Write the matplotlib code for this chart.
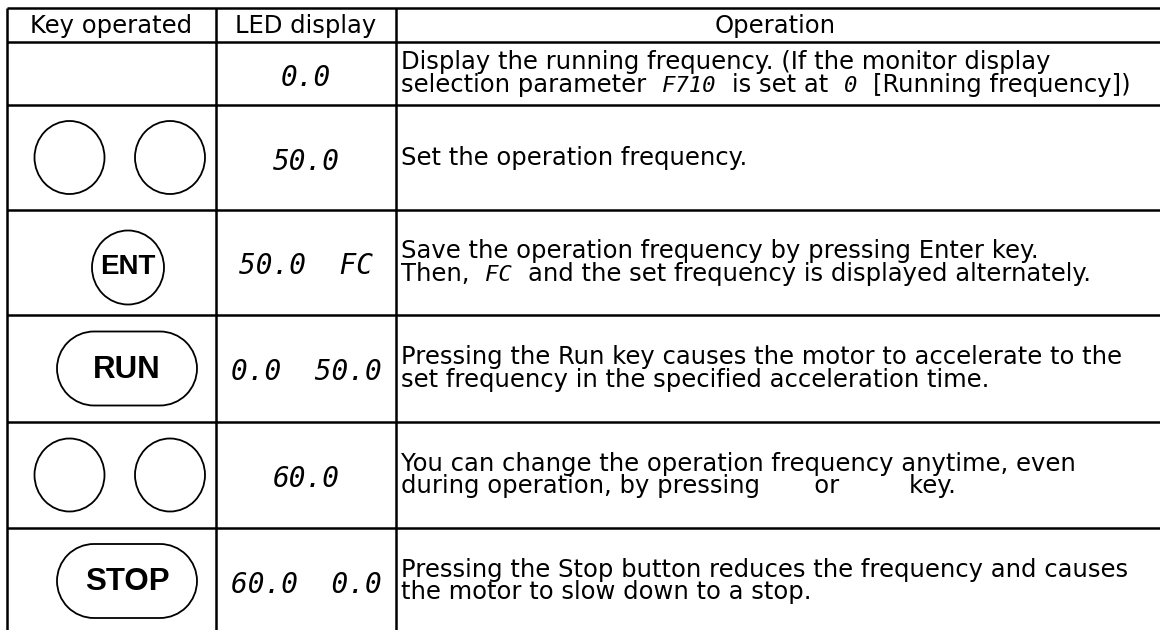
import numpy as np
import matplotlib.pyplot as plt
from matplotlib.patches import Ellipse, PathPatch
from matplotlib.path import Path

headers = ["Key operated", "LED display", "Operation"]
keys = [[], ["", ""], ["ENT"], ["RUN"], ["", ""], ["STOP"]]
led = ["0.0", "50.0", "50.0  FC", "0.0  50.0", "60.0", "60.0  0.0"]

# one list of lines per row, each line a list of (text, led glyph?) parts
operation = [
    [[("Display the running frequency. (If the monitor display", False)],
     [("selection parameter", False), ("F710", True), ("is set at", False), ("0", True),
      ("[Running frequency])", False)]],
    [[("Set the operation frequency.", False)]],
    [[("Save the operation frequency by pressing Enter key.", False)],
     [("Then,", False), ("FC", True), ("and the set frequency is displayed alternately.", False)]],
    [[("Pressing the Run key causes the motor to accelerate to the", False)],
     [("set frequency in the specified acceleration time.", False)]],
    [[("You can change the operation frequency anytime, even", False)],
     [("during operation, by pressing       or         key.", False)]],
    [[("Pressing the Stop button reduces the frequency and causes", False)],
     [("the motor to slow down to a stop.", False)]],
]

# layout in pixels
W, H = 1160, 630
col_x = [7, 216, 396]
row_y = [8, 42, 105, 210, 315, 422, 528, 634]
body = dict(family="DejaVu Sans", fontsize=17.5, color="black")
led_style = dict(family="DejaVu Sans Mono", style="oblique", color="black")
line_gap = 23
lw = 1.8


def pill(x0, x1, yc, r):
    right = Path.arc(-90, 90)
    left = Path.arc(90, 270)
    v = np.vstack([right.vertices * r + [x1 - r, yc],
                   left.vertices * r + [x0 + r, yc],
                   [[x1 - r, yc - r]]])
    codes = np.concatenate([right.codes, left.codes, [Path.CLOSEPOLY]])
    codes[len(right.codes)] = Path.LINETO
    return Path(v, codes)


fig = plt.figure(figsize=(W / 100, H / 100), dpi=100)
ax = fig.add_axes([0, 0, 1, 1])
ax.set_xlim(0, W)
ax.set_ylim(H, 0)
ax.axis("off")
renderer = fig.canvas.get_renderer()

for y in row_y[:-1]:
    ax.plot([col_x[0], W], [y, y], color="black", lw=lw, solid_capstyle="butt")
for x in col_x:
    ax.plot([x, x], [row_y[0], H], color="black", lw=lw, solid_capstyle="butt")

# header
col_mid = [(col_x[0] + col_x[1]) / 2, (col_x[1] + col_x[2]) / 2, 775]
for i in range(3):
    ax.text(col_mid[i], (row_y[0] + row_y[1]) / 2 + 8, headers[i], ha="center", va="baseline", **body)

space = 6
led_pad = 10
for r in range(6):
    yc = (row_y[r + 1] + row_y[r + 2]) / 2

    # keys
    k = keys[r]
    if len(k) == 2:
        for cx in [69.5, 170]:
            ax.add_patch(Ellipse((cx, yc), 70, 73, fill=False, lw=1.3, ec="black"))
    elif k == ["ENT"]:
        ax.add_patch(Ellipse((128, yc + 5), 72, 74, fill=False, lw=1.3, ec="black"))
        ax.text(128, yc + 5, "ENT", ha="center", va="center", family="Liberation Sans",
                weight="bold", fontsize=20)
    elif len(k) == 1:
        ax.add_patch(PathPatch(pill(57, 197, yc, 37), fill=False, lw=1.3, ec="black"))
        ax.text(127, yc + 1, k[0], ha="center", va="center", family="Liberation Sans",
                weight="bold", fontsize=22.5)

    # LED display
    ax.text(col_mid[1], yc + 12, led[r], ha="center", va="baseline", fontsize=20, **led_style)

    # operation text
    lines = operation[r]
    n = len(lines)
    for i, parts in enumerate(lines):
        yb = yc + 7 + (i - (n - 1) / 2) * line_gap
        x = 401
        for s, is_led in parts:
            if is_led:
                x += led_pad
                t = ax.text(x, yb, s, ha="left", va="baseline", fontsize=16, **led_style)
                x = x + t.get_window_extent(renderer=renderer).width + space + led_pad
            else:
                t = ax.text(x, yb, s, ha="left", va="baseline", **body)
                x = x + t.get_window_extent(renderer=renderer).width + space

fig.savefig("out.png", dpi=100)
